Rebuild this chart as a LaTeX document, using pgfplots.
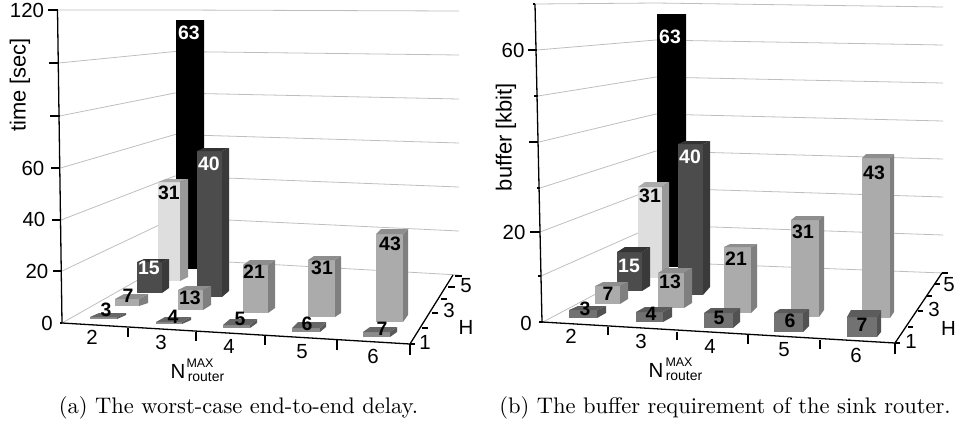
\documentclass[border=0pt]{standalone}
\usepackage{fontspec}
\usepackage{pgfplots}
\pgfplotsset{compat=1.18}
\newfontfamily\lib{Liberation Sans}
\definecolor{fA}{HTML}{ABABAB}\definecolor{tA}{HTML}{8E8E8E}\definecolor{sA}{HTML}{7F7F7F}
\definecolor{fD}{HTML}{4C4C4C}\definecolor{tD}{HTML}{333333}\definecolor{sD}{HTML}{3A3A3A}
\definecolor{fL}{HTML}{DEDEDE}\definecolor{tL}{HTML}{ABABAB}\definecolor{sL}{HTML}{999999}
\definecolor{fK}{HTML}{000000}\definecolor{tK}{HTML}{111111}\definecolor{sK}{HTML}{1A1A1A}
\definecolor{fF}{HTML}{8C8C8C}\definecolor{tF}{HTML}{666666}\definecolor{sF}{HTML}{5A5A5A}
\definecolor{fG}{HTML}{727272}\definecolor{tG}{HTML}{5C5C5C}\definecolor{sG}{HTML}{525252}
\definecolor{gridc}{HTML}{BEBEBE}
% type, front-left x, front-right x, side-right x, back top y, front top y, front bottom y, side bottom y
\newcommand{\barbox}[8]{%
  \pgfmathsetmacro{\bxd}{#2+#4-#3}%
  \addplot[fill=f#1,draw=none] coordinates {(#2,#7)(#3,#7)(#3,#6)(#2,#6)} -- cycle;
  \addplot[fill=s#1,draw=none] coordinates {(#3,#7)(#4,#8)(#4,#5)(#3,#6)} -- cycle;
  \addplot[fill=t#1,draw=none] coordinates {(#2,#6)(#3,#6)(#4,#5)(\bxd,#5)} -- cycle;
}
\newcommand{\gl}[6]{\addplot[color=gridc,line width=0.8pt] coordinates {(#1,#2)(#3,#4)(#5,#6)};}
\newcommand{\ax}[4]{\addplot[black,line width=1.3pt] coordinates {(#1,#2)(#3,#4)};}
\newcommand{\blab}[4][black]{\node[text=#1,inner sep=0pt,font=\lib\bfseries\fontsize{19.5}{19.5}\selectfont] at (axis cs:#2,#3) {#4};}
\newcommand{\tlab}[3]{\node[inner sep=0pt,font=\lib\fontsize{20.5}{20.5}\selectfont] at (axis cs:#1,#2) {#3};}
\begin{document}
\begin{tikzpicture}
\begin{axis}[x=1bp,y=1bp,width=956bp,height=427bp,scale only axis,
  xmin=0,xmax=956,ymin=0,ymax=427,y dir=reverse,enlargelimits=false,
  hide axis,clip=false,no marks]
\path (axis cs:0,0) rectangle (axis cs:956,427);
% ---------- panel a: gridlines
\gl{57.5}{10}{175}{10}{459}{11}
\gl{58.5}{63}{175}{51.5}{459}{55}
\gl{59.5}{116}{175}{93}{459}{99}
\gl{60.5}{168}{175}{134.5}{459}{143}
\gl{61}{220}{175}{176}{459}{187}
\gl{62}{271}{175}{217.5}{459}{231}
\gl{62}{323}{175}{259}{459}{275}
% bars a
\barbox{K}{176}{204}{204}{20}{20}{269}{269}
\barbox{L}{158}{180}{188}{179}{182}{281}{277}
\barbox{D}{197}{222}{229}{148}{151}{297}{291}
\barbox{D}{137}{162}{169}{259}{262}{293}{288}
\barbox{A}{115}{139}{148}{294}{299}{306}{303}
\barbox{F}{90}{117}{126}{313}{317}{319}{315}
\barbox{A}{178}{203}{211}{286}{290}{310}{305}
\barbox{F}{156}{182}{191}{317}{322}{324}{320}
\barbox{A}{243}{268}{275}{260}{265}{313}{308}
\barbox{F}{223}{250}{257}{319}{325}{328}{323}
\barbox{A}{308}{335}{341}{256}{260}{317}{313}
\barbox{F}{292}{320}{326}{322}{328}{332}{327}
\barbox{A}{376}{403}{408}{229}{234}{322}{315}
\barbox{F}{363}{390}{397}{327}{332}{337}{332}
% axes a
\ax{57.5}{10}{62}{323}
\ax{62}{323}{410}{344}
\ax{410}{344}{453}{275}
\ax{48}{10}{58}{10}\ax{49}{63}{58.5}{63}\ax{50}{116}{59.5}{116}\ax{51}{168}{60}{168}\ax{52}{220}{61}{220}\ax{53}{271}{62}{271}\ax{60}{323}{62}{323}
\ax{128}{328}{128}{337}\ax{196}{332}{196}{341}\ax{265}{336}{265}{345}\ax{337}{340}{337}{350}\ax{410}{344}{410}{355}
\ax{410}{344}{415}{344}\ax{422}{328}{428}{328}\ax{432}{313}{438}{313}\ax{441}{299}{447}{299}\ax{448}{287}{455}{287}\ax{455}{276}{462}{276}
% ---------- panel b: gridlines
\gl{535}{4}{656}{3}{943}{7}
\gl{537}{50}{656}{40}{943}{45}
\gl{538}{96}{656}{77}{943}{83}
\gl{539}{142}{656}{114}{943}{121}
\gl{540}{188}{656}{151}{943}{159}
\gl{540}{232}{656}{188}{943}{197}
\gl{541}{276}{656}{225}{943}{235}
\gl{543}{322}{656}{262}{943}{273}
% bars b
\barbox{K}{657}{686}{686}{14}{14}{267}{267}
\barbox{L}{638}{662}{669}{182}{187}{278}{273}
\barbox{D}{678}{703}{710}{141}{144}{295}{287}
\barbox{D}{617}{642}{650}{247}{252}{291}{286}
\barbox{A}{595}{620}{628}{282}{286}{304}{299}
\barbox{G}{569}{597}{606}{306}{310}{318}{313}
\barbox{A}{658}{684}{692}{268}{273}{308}{303}
\barbox{G}{636}{663}{672}{307}{312}{322}{317}
\barbox{A}{724}{751}{757}{244}{247}{313}{307}
\barbox{G}{704}{733}{740}{308}{313}{328}{322}
\barbox{A}{791}{819}{824}{216}{220}{317}{310}
\barbox{G}{774}{803}{809}{309}{313}{332}{326}
\barbox{A}{862}{890}{894}{154}{158}{318}{312}
\barbox{G}{847}{877}{881}{310}{317}{337}{332}
% axes b
\ax{535}{4}{542}{322}
\ax{542}{322}{895}{343}
\ax{895}{343}{942}{273}
\ax{533}{4}{535}{4}\ax{528}{50}{537}{50}\ax{534}{96}{538}{96}\ax{529}{142}{538}{142}\ax{537}{188}{540}{188}\ax{530}{232}{540}{232}\ax{538}{276}{541}{276}\ax{539}{322}{543}{322}
\ax{608}{327}{608}{335}\ax{677}{332}{677}{340}\ax{748}{335}{748}{344}\ax{820}{340}{820}{349}\ax{895}{343}{895}{354}
\ax{895}{343}{900}{343}\ax{908}{327}{913}{327}\ax{918}{311}{923}{311}\ax{927}{296}{932}{296}\ax{935}{284}{940}{284}\ax{942}{273}{948}{273}
% bar labels a
\blab[white]{189}{33}{63}\blab[white]{209}{164}{40}\blab{169}{193}{31}\blab[white]{149}{268}{15}
\blab{128}{296}{7}\blab{106}{310}{3}\blab{173}{317}{4}\blab{190}{298}{13}\blab{240}{319}{5}
\blab{254}{272}{21}\blab{307}{324}{6}\blab{322}{268}{31}\blab{382}{329}{7}\blab{390}{244}{43}
% bar labels b
\blab[white]{670}{37}{63}\blab[white]{690}{157}{40}\blab{650}{196}{31}\blab[white]{629}{266}{15}
\blab{608}{294}{7}\blab{585}{309}{3}\blab{651}{314}{4}\blab{670}{282}{13}\blab{719}{318}{5}
\blab{736}{259}{21}\blab{790}{321}{6}\blab{803}{232}{31}\blab{862}{325}{7}\blab{874}{173}{43}
% tick labels a
\tlab{27}{10}{120}\tlab{33}{168}{60}\tlab{34}{219}{40}\tlab{37}{271}{20}\tlab{47}{323}{0}
\tlab{92}{337}{2}\tlab{161}{342}{3}\tlab{229}{346}{4}\tlab{302}{352}{5}\tlab{373}{356}{6}
\tlab{466}{286}{5}\tlab{449}{310}{3}\tlab{425}{342}{1}\tlab{466}{327}{H}
\node[rotate=90,inner sep=0pt,font=\lib\fontsize{22}{22}\selectfont] at (axis cs:20,85) {time [sec]};
\tlab{178}{371}{N}
\node[inner sep=0pt,font=\lib\fontsize{12.5}{13}\selectfont] at (axis cs:200,363) {MAX};
\node[inner sep=0pt,font=\lib\fontsize{14}{14}\selectfont] at (axis cs:206,377) {router};
\node[scale=2.26,inner sep=0pt,font=\fontsize{10}{12}\selectfont] at (axis cs:238.5,408) {(a) The worst-case end-to-end delay.};
% tick labels b
\tlab{513}{50}{60}\tlab{514}{232}{20}\tlab{526}{323}{0}
\tlab{571}{336}{2}\tlab{641}{341}{3}\tlab{710}{346}{4}\tlab{784}{350}{5}\tlab{856}{355}{6}
\tlab{949}{285}{5}\tlab{934}{309}{3}\tlab{911}{341}{1}\tlab{948.5}{328}{H}
\node[rotate=90,inner sep=0pt,font=\lib\fontsize{22}{22}\selectfont] at (axis cs:506,137) {buffer [kbit]};
\tlab{656}{370}{N}
\node[inner sep=0pt,font=\lib\fontsize{12.5}{13}\selectfont] at (axis cs:679,362) {MAX};
\node[inner sep=0pt,font=\lib\fontsize{14}{14}\selectfont] at (axis cs:684,376) {router};
\node[scale=2.26,inner sep=0pt,font=\fontsize{10}{12}\selectfont] at (axis cs:725,408) {(b) The buffer requirement of the sink router.};
\end{axis}
\end{tikzpicture}
\end{document}
